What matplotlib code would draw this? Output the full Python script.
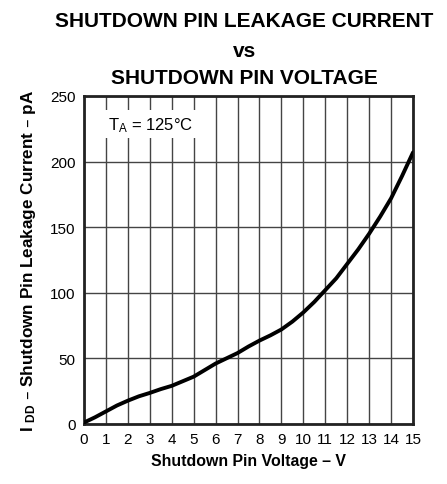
import matplotlib
matplotlib.use("Agg")
import matplotlib.pyplot as plt

plt.rcParams['font.family'] = ['Liberation Sans', 'DejaVu Sans']
plt.rcParams['mathtext.default'] = 'regular'

# leakage current (pA) vs shutdown pin voltage (V), T_A = 125 C
voltage = [0, 0.5, 1, 1.5, 2, 2.5, 3, 3.5, 4, 4.5, 5, 5.5, 6, 6.5, 7, 7.5,
           8, 8.5, 9, 9.5, 10, 10.5, 11, 11.5, 12, 12.5, 13, 13.5, 14, 14.5, 15]
leakage = [1, 5, 9.5, 14, 17.7, 21, 23.6, 26.5, 29, 32.5, 36, 41, 46, 50, 54, 59,
           63.5, 67.5, 72, 78, 85, 93, 102, 111, 122, 133, 145, 158, 172, 189, 207]

x_ticks = list(range(0, 16))
y_ticks = [0, 50, 100, 150, 200, 250]

fig = plt.figure(figsize=(4.47, 4.85), dpi=100)
ax = fig.add_axes([0.188, 0.124, 0.736, 0.676])

ax.plot(voltage, leakage, color='black', lw=2.8, solid_capstyle='round',
        solid_joinstyle='round', zorder=3)

ax.set_xlim(0, 15)
ax.set_ylim(0, 250)
ax.set_xticks(x_ticks)
ax.set_yticks(y_ticks)
ax.tick_params(length=0, labelsize=11, pad=6)
ax.grid(True, color='#444444', lw=1.0)
for s in ax.spines.values():
    s.set_linewidth(2.0)
    s.set_color('#222222')

ax.set_xlabel("Shutdown Pin Voltage – V", fontsize=11.4, fontweight='bold', labelpad=5)
ax.set_ylabel("I $_{DD}$ – Shutdown Pin Leakage Current – pA", fontsize=12.3,
              fontweight='bold', labelpad=9)

ax.text(1.08, 228.5, "T$_{A}$ = 125°C", fontsize=12, va='center', ha='left',
        bbox=dict(facecolor='white', edgecolor='none', pad=3.5), zorder=4)

fig.text(0.547, 0.955, "SHUTDOWN PIN LEAKAGE CURRENT", ha='center', va='center',
         fontsize=15, fontweight='bold')
fig.text(0.547, 0.893, "vs", ha='center', va='center', fontsize=15, fontweight='bold')
fig.text(0.547, 0.839, "SHUTDOWN PIN VOLTAGE", ha='center', va='center',
         fontsize=15, fontweight='bold')

fig.savefig("out.png", dpi=100)
